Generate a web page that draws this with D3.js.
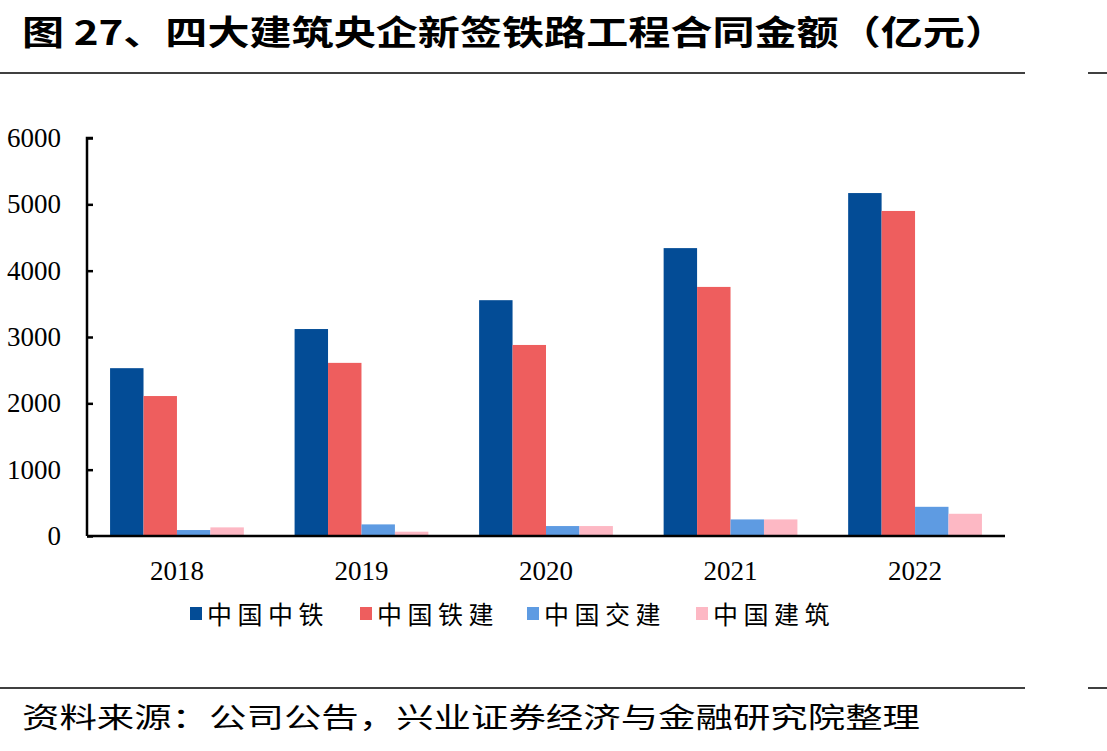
<!DOCTYPE html>
<html><head><meta charset="utf-8">
<script src="https://cdn.jsdelivr.net/npm/d3@7/dist/d3.min.js"></script>
<style>body{margin:0;background:#fff;}svg{display:block;}</style>
</head><body>
<script>
const years = ["2018","2019","2020","2021","2022"];
const seriesNames = ["中国中铁","中国铁建","中国交建","中国建筑"];
const crec = [2530, 3120, 3555, 4340, 5170];
const crcc = [2110, 2610, 2880, 3755, 4900];
const cccc = [90, 175, 150, 250, 440];
const cscec = [130, 65, 150, 250, 335];
const yTicks = [0,1000,2000,3000,4000,5000,6000];
const colors = ["#034C96","#EE5E5E","#5E9BE2","#FDB8C4"];
const titleText = "图 27、四大建筑央企新签铁路工程合同金额（亿元）";
const sourceText = "资料来源：公司公告，兴业证券经济与金融研究院整理";

const W=1107,H=751;
const svg=d3.select("body").append("svg").attr("width",W).attr("height",H);
const cjk='"Noto Sans CJK SC","Noto Sans CJK TC",sans-serif';
const serif='"Liberation Serif","Times New Roman",serif';

svg.append("text").attr("x",22).attr("y",45).attr("font-family",cjk).attr("font-weight","bold")
  .attr("font-size",34).attr("textLength",985).attr("lengthAdjust","spacingAndGlyphs").text(titleText);

function rule(y){
  svg.append("line").attr("x1",0).attr("x2",1025).attr("y1",y).attr("y2",y).attr("stroke","#000").attr("stroke-width",1.5);
  svg.append("line").attr("x1",1088).attr("x2",1107).attr("y1",y).attr("y2",y).attr("stroke","#000").attr("stroke-width",1.5);
}
rule(73); rule(688);

svg.append("text").attr("x",22).attr("y",728).attr("font-family",cjk)
  .attr("font-size",28).attr("textLength",898).attr("lengthAdjust","spacingAndGlyphs").text(sourceText);

const x0=87,x1=1005,yTop=138,yBot=536;
const y=d3.scaleLinear().domain([0,6000]).range([yBot,yTop]);
const x=d3.scaleBand().domain(years).range([x0,x1]).paddingInner(0.275).paddingOuter(0.125);
const xs=d3.scaleBand().domain(seriesNames).range([0,x.bandwidth()]);
const data=[crec,crcc,cccc,cscec];

const g=svg.append("g");
seriesNames.forEach((s,si)=>{
  g.selectAll(null).data(years).enter().append("rect")
   .attr("x",(d)=>x(d)+xs(s)).attr("width",xs.bandwidth())
   .attr("y",(d,i)=>y(data[si][i])).attr("height",(d,i)=>yBot-y(data[si][i]))
   .attr("fill",colors[si]);
});

const ya=svg.append("g").attr("transform",`translate(${x0},0)`)
  .call(d3.axisRight(y).tickValues(yTicks).tickSize(6).tickFormat(""));
ya.select(".domain").attr("stroke","#000").attr("stroke-width",2.5).attr("d",`M6,${yTop}H0V${yBot}`);
ya.selectAll(".tick line").attr("stroke","#000").attr("stroke-width",2.5);
svg.append("g").selectAll(null).data(yTicks).enter().append("text")
  .attr("x",61).attr("y",d=>y(d)+9).attr("text-anchor","end").attr("font-family",serif).attr("font-size",27)
  .text(d=>d);

const xa=svg.append("g").attr("transform",`translate(0,${yBot})`).call(d3.axisBottom(x).tickSize(0).tickFormat(""));
xa.select(".domain").attr("stroke","#000").attr("stroke-width",2.5).attr("d",`M${x0},0H${x1}`);
svg.append("g").selectAll(null).data(years).enter().append("text")
  .attr("x",d=>x(d)+x.bandwidth()/2).attr("y",580).attr("text-anchor","middle").attr("font-family",serif).attr("font-size",27)
  .text(d=>d);

const legX=[190,360,527,696];
seriesNames.forEach((s,i)=>{
  svg.append("rect").attr("x",legX[i]).attr("y",607).attr("width",12).attr("height",13).attr("fill",colors[i]);
  svg.append("text").attr("x",legX[i]+17).attr("y",624).attr("font-family",cjk).attr("font-size",25)
    .attr("letter-spacing",5.5).text(s);
});
</script>
</body></html>
